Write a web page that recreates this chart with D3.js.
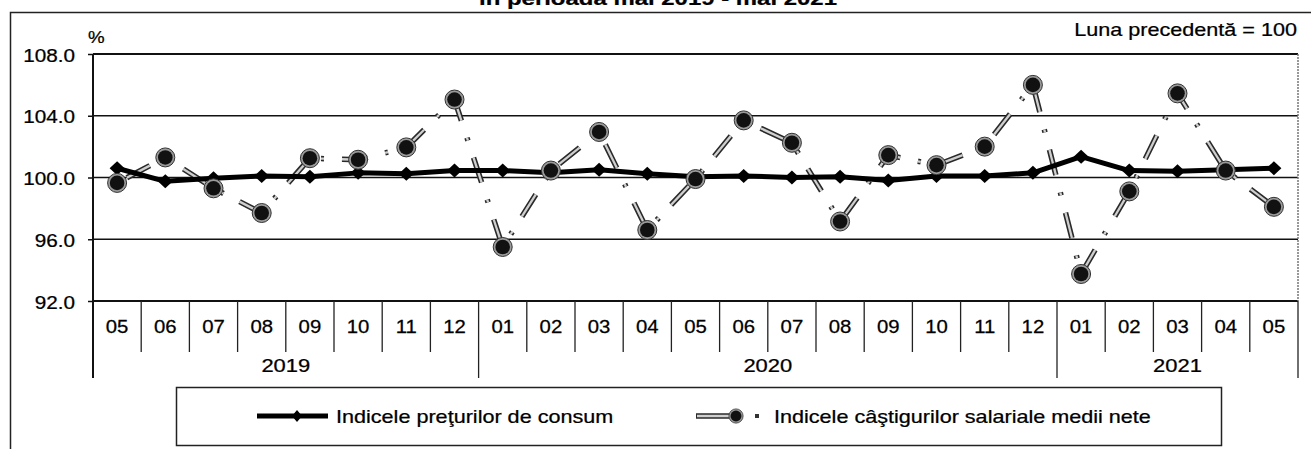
<!DOCTYPE html>
<meta charset="utf-8">
<style>
body { margin: 0; background: #fff; }
svg { display: block; font-family: "Liberation Sans", Arial, sans-serif; }
.axis .domain { display: none; }
</style>
<svg width="1311" height="449"></svg>
<script src="https://d3js.org/d3.v7.min.js"></script>
<script>

var months = ["05", "06", "07", "08", "09", "10", "11", "12",
              "01", "02", "03", "04", "05", "06", "07", "08", "09", "10", "11", "12",
              "01", "02", "03", "04", "05"];
var yearLabels = ["2019", "2020", "2021"];
var yearSpans = [8, 12, 5];
var yTicks = [92, 96, 100, 104, 108];

// Indicele preturilor de consum (luna precedenta = 100)
var cpi = [100.6, 99.75, 99.95, 100.1, 100.05, 100.3, 100.25, 100.45,
           100.45, 100.3, 100.5, 100.25, 100.05, 100.1, 100.0, 100.05, 99.8, 100.1, 100.1, 100.3,
           101.35, 100.45, 100.4, 100.5, 100.6];
// Indicele castigurilor salariale medii nete
var salary = [99.65, 101.3, 99.3, 97.7, 101.25, 101.15, 101.95, 105.05,
              95.5, 100.45, 102.95, 96.6, 99.9, 103.7, 102.25, 97.15, 101.45, 100.8, 102.0, 106.0,
              93.75, 99.1, 105.45, 100.45, 98.1];

var cpiName = "Indicele preţurilor de consum",
    salaryName = "Indicele câştigurilor salariale medii nete";

var svg = d3.select("svg"),
    margin = {top: 54, right: 13, bottom: 148, left: 93},
    width = +svg.attr("width") - margin.left - margin.right,
    height = +svg.attr("height") - margin.top - margin.bottom,
    g = svg.append("g").attr("transform", "translate(" + margin.left + "," + margin.top + ")");

var x = d3.scaleBand().domain(d3.range(months.length)).range([0, width]);
var y = d3.scaleLinear().domain([92, 108]).range([height, 0]);
var bw = x.bandwidth();

// the scan is stretched sideways, so text gets a horizontal scale
function label(parent, px, py, s, size, sx, anchor, weight) {
  return parent.append("text")
      .attr("transform", "translate(" + px + "," + py + ") scale(" + sx + ",1)")
      .attr("text-anchor", anchor || "middle")
      .attr("font-size", size)
      .attr("font-weight", weight || null)
      .attr("fill", "#000")
      .attr("stroke", "#000").attr("stroke-width", 0.25)
      .text(s);
}

// outer frame
svg.append("rect")
    .attr("x", 10.5).attr("y", 12.5)
    .attr("width", 1330).attr("height", 470)
    .attr("fill", "none").attr("stroke", "#222").attr("stroke-width", 1.5);

// cut-off title
label(svg, 658, 5, "în perioada mai 2019 - mai 2021", 19, 1.26, "middle", "bold");

label(svg, 88, 43, "%", 17, 1.1, "start");
label(svg, 1297, 36, "Luna precedentă = 100", 18, 1.2, "end");

// grid
g.append("g")
  .selectAll("line")
  .data(yTicks)
  .enter().append("line")
    .attr("x1", 0).attr("x2", width)
    .attr("y1", function(d) { return y(d); })
    .attr("y2", function(d) { return y(d); })
    .attr("stroke", "#111")
    .attr("stroke-width", function(d) { return d === 108 || d === 92 ? 2 : 1.3; });

// right border of plot (grey, dotted in the scan)
g.append("line")
    .attr("x1", width).attr("x2", width)
    .attr("y1", 0).attr("y2", height)
    .attr("stroke", "#777").attr("stroke-width", 1.5)
    .attr("stroke-dasharray", "2,1");

// y axis
var yAxis = g.append("g")
    .attr("class", "axis")
    .call(d3.axisLeft(y).tickValues(yTicks).tickFormat(d3.format(".1f")).tickSize(5).tickPadding(0));
yAxis.selectAll("line").attr("stroke", "#111").attr("stroke-width", 1.5);
yAxis.selectAll("text").remove();
yAxis.selectAll(".tick").each(function(d) {
  label(d3.select(this), -18, 7, d3.format(".1f")(d), 18, 1.15, "end");
});
g.append("line")
    .attr("x1", 0).attr("x2", 0)
    .attr("y1", 0).attr("y2", height + 77)
    .attr("stroke", "#111").attr("stroke-width", 2);

// category boxes: month row and year row
var yearBounds = [0];
yearSpans.forEach(function(n, i) { yearBounds.push(yearBounds[i] + n); });

g.append("g")
  .selectAll("line")
  .data(d3.range(1, months.length + 1))
  .enter().append("line")
    .attr("x1", function(i) { return i * bw; })
    .attr("x2", function(i) { return i * bw; })
    .attr("y1", height)
    .attr("y2", function(i) { return yearBounds.indexOf(i) >= 0 ? height + 77 : height + 51; })
    .attr("stroke", "#222").attr("stroke-width", 1.3);

var xAxis = g.append("g")
    .attr("class", "axis")
    .attr("transform", "translate(0," + height + ")")
    .call(d3.axisBottom(x).tickSize(0).tickFormat(function(i) { return months[i]; }));
xAxis.selectAll("text").remove();
xAxis.selectAll(".tick").each(function(i) {
  label(d3.select(this), 0, 32, months[i], 18, 1.13, "middle");
});

yearLabels.forEach(function(yr, k) {
  var cx = (yearBounds[k] + yearBounds[k + 1]) / 2 * bw;
  label(g, cx, height + 71, yr, 18, 1.22, "middle");
});

// series
var cx = function(d, i) { return x(i) + bw / 2; };

var salaryLine = d3.line().x(cx).y(function(d) { return y(d); });
var cpiLine = d3.line().x(cx).y(function(d) { return y(d); });

var dash = "26,18,3,18";
g.append("path")
    .datum(salary)
    .attr("d", salaryLine)
    .attr("fill", "none").attr("stroke", "#2a2a2a").attr("stroke-width", 5.5)
    .attr("stroke-dasharray", dash).attr("stroke-dashoffset", -11);
g.append("path")
    .datum(salary)
    .attr("d", salaryLine)
    .attr("fill", "none").attr("stroke", "#cfcfcf").attr("stroke-width", 2.3)
    .attr("stroke-dasharray", dash).attr("stroke-dashoffset", -11);

g.append("path")
    .datum(cpi)
    .attr("d", cpiLine)
    .attr("fill", "none").attr("stroke", "#000").attr("stroke-width", 5)
    .attr("stroke-linejoin", "round");

function diamond(sel, w, h) {
  sel.attr("d", "M0," + (-h) + "L" + w + ",0L0," + h + "L" + (-w) + ",0Z").attr("fill", "#000");
}
function dot(sel) {
  sel.append("circle").attr("r", 9.5).attr("fill", "#9a9a9a").attr("stroke", "#333").attr("stroke-width", 1);
  sel.append("circle").attr("r", 7.3).attr("fill", "#111");
}

g.append("g")
  .selectAll("path")
  .data(cpi)
  .enter().append("path")
    .attr("transform", function(d, i) { return "translate(" + cx(d, i) + "," + y(d) + ")"; })
    .call(diamond, 7.5, 7);

g.append("g")
  .selectAll("g")
  .data(salary)
  .enter().append("g")
    .attr("transform", function(d, i) { return "translate(" + cx(d, i) + "," + y(d) + ")"; })
    .call(dot);

// legend
var legend = svg.append("g");
legend.append("rect")
    .attr("x", 176.5).attr("y", 387.5)
    .attr("width", 1045).attr("height", 58)
    .attr("fill", "#fff").attr("stroke", "#222").attr("stroke-width", 1.5);

legend.append("line")
    .attr("x1", 257).attr("x2", 328).attr("y1", 416).attr("y2", 416)
    .attr("stroke", "#000").attr("stroke-width", 5);
legend.append("path").attr("transform", "translate(297,416)").call(diamond, 5, 6);
label(legend, 336, 423, cpiName, 18, 1.2, "start");

legend.append("line")
    .attr("x1", 696).attr("x2", 734).attr("y1", 416).attr("y2", 416)
    .attr("stroke", "#2a2a2a").attr("stroke-width", 5.5);
legend.append("line")
    .attr("x1", 697).attr("x2", 734).attr("y1", 416).attr("y2", 416)
    .attr("stroke", "#cfcfcf").attr("stroke-width", 2.3);
legend.append("g").attr("transform", "translate(736,416) scale(0.75)").call(dot);
legend.append("rect").attr("x", 755).attr("y", 414).attr("width", 4).attr("height", 4).attr("fill", "#333");
label(legend, 774, 423, salaryName, 18, 1.2, "start");

</script>
